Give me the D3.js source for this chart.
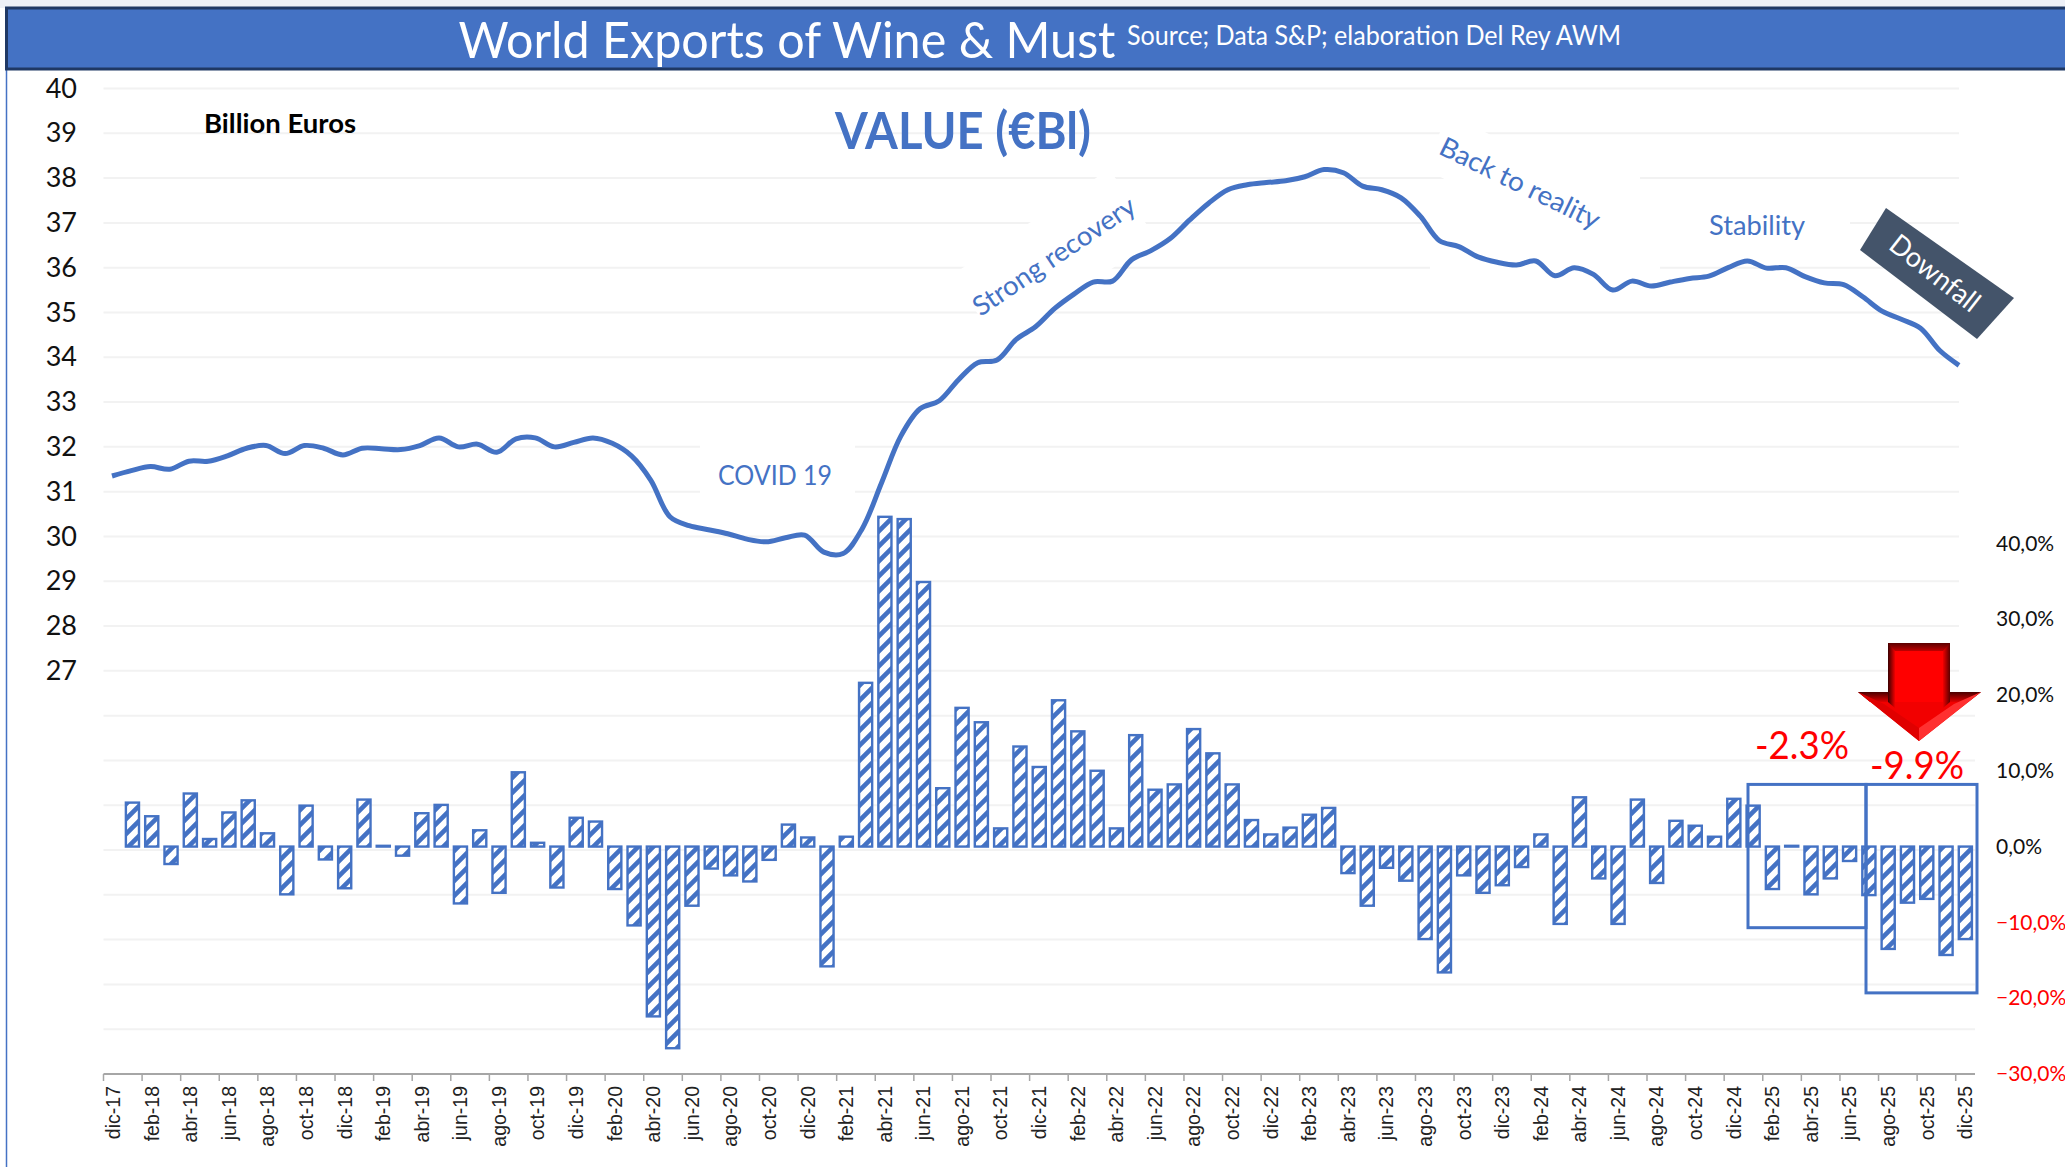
<!DOCTYPE html>
<meta charset="utf-8">
<style>
body { margin: 0; background: #fff; }
text { font-family: Lato, "Open Sans", sans-serif; }
.xlabel { font-family: "Liberation Sans", sans-serif; font-size: 19.5px; fill: #222; }
</style>
<svg width="2065" height="1167"></svg>
<script src="https://d3js.org/d3.v7.min.js"></script>
<script>

////////// Data //////////////
var months = ["dic-17",
  "ene-18","feb-18","mar-18","abr-18","may-18","jun-18","jul-18","ago-18","sep-18","oct-18","nov-18","dic-18",
  "ene-19","feb-19","mar-19","abr-19","may-19","jun-19","jul-19","ago-19","sep-19","oct-19","nov-19","dic-19",
  "ene-20","feb-20","mar-20","abr-20","may-20","jun-20","jul-20","ago-20","sep-20","oct-20","nov-20","dic-20",
  "ene-21","feb-21","mar-21","abr-21","may-21","jun-21","jul-21","ago-21","sep-21","oct-21","nov-21","dic-21",
  "ene-22","feb-22","mar-22","abr-22","may-22","jun-22","jul-22","ago-22","sep-22","oct-22","nov-22","dic-22",
  "ene-23","feb-23","mar-23","abr-23","may-23","jun-23","jul-23","ago-23","sep-23","oct-23","nov-23","dic-23",
  "ene-24","feb-24","mar-24","abr-24","may-24","jun-24","jul-24","ago-24","sep-24","oct-24","nov-24","dic-24",
  "ene-25","feb-25","mar-25","abr-25","may-25","jun-25","jul-25","ago-25","sep-25","oct-25","nov-25","dic-25"];

// moving annual total, billion euros
var valueBn = [31.35,31.47,31.56,31.5,31.68,31.68,31.8,31.97,32.03,31.85,32.03,31.97,31.82,
  31.97,31.96,31.94,32.03,32.2,32.0,32.06,31.88,32.18,32.2,32.0,32.1,
  32.2,32.08,31.8,31.26,30.44,30.24,30.15,30.06,29.94,29.88,29.97,30.03,
  29.65,29.62,30.18,31.2,32.24,32.85,33.03,33.5,33.88,33.94,34.4,34.68,
  35.09,35.41,35.68,35.7,36.18,36.38,36.65,37.06,37.44,37.74,37.85,37.9,
  37.94,38.03,38.19,38.12,37.82,37.74,37.56,37.15,36.6,36.47,36.24,36.12,
  36.06,36.15,35.82,36.0,35.85,35.5,35.7,35.59,35.68,35.76,35.81,36.0,
  36.15,35.99,36.0,35.8,35.66,35.62,35.35,35.03,34.85,34.65,34.15,33.82];

// monthly change, percent (no bar for the first month)
var changePct = [null,
  5.8,4.0,-2.3,7.0,1.0,4.5,6.1,1.75,-6.3,5.4,-1.7,-5.5,
  6.2,0.1,-1.2,4.4,5.5,-7.5,2.15,-6.1,9.8,0.5,-5.4,3.8,
  3.3,-5.6,-10.4,-22.4,-26.6,-7.8,-2.9,-3.8,-4.6,-1.75,2.9,1.2,
  -15.8,1.3,21.6,43.5,43.2,34.9,7.7,18.3,16.4,2.4,13.2,10.5,
  19.3,15.2,10.0,2.4,14.7,7.5,8.2,15.5,12.3,8.2,3.5,1.6,
  2.5,4.2,5.1,-3.5,-7.8,-2.8,-4.5,-12.2,-16.6,-3.8,-6.1,-5.1,
  -2.7,1.6,-10.2,6.5,-4.2,-10.2,6.2,-4.8,3.4,2.75,1.3,6.3,
  5.4,-5.6,0.1,-6.3,-4.2,-1.9,-6.4,-13.5,-7.4,-6.9,-14.3,-12.2];

var leftTicks = d3.range(18, 41);
var rightTicks = [-30,-20,-10,0,10,20,30,40];

////////// Scales //////////////
var svg = d3.select("svg"),
    blue = "#4472C4",
    top_ = 88.5,
    bottom = 1074;

var xBar = d3.scaleBand().domain(months).range([103.5, 1975]).paddingInner(0.32).paddingOuter(0.16);
var xLine = d3.scalePoint().domain(months).range([112, 1959]);
var yLeft = d3.scaleLinear().domain([18, 40]).range([bottom, top_]);
var yRight = d3.scaleLinear().domain([-30, 100]).range([bottom, top_]);

var defs = svg.append("defs");

// bar hatch
var hatch = defs.append("pattern")
    .attr("id", "hatch")
    .attr("patternUnits", "userSpaceOnUse")
    .attr("width", 15).attr("height", 15);
hatch.append("rect").attr("width", 15).attr("height", 15).attr("fill", "#fff");
hatch.append("path")
    .attr("d", "M-3,3L3,-3M0,15L15,0M12,18L18,12")
    .attr("stroke", blue).attr("stroke-width", 4.6);

function grad(id, stops, vertical) {
  var g = defs.append("linearGradient").attr("id", id);
  if (vertical) g.attr("x2", 0).attr("y2", 1);
  stops.forEach(function(s) {
    g.append("stop").attr("offset", s[0]).attr("stop-color", s[1]);
  });
}
grad("bevelL", [[0, "#3a0000"], [1, "#ee0000"]]);
grad("bevelR", [[0, "#ee0000"], [1, "#5a0000"]]);
grad("bevelT", [[0, "#5a0000"], [1, "#c00000"]], true);
grad("wing", [[0, "#4a0000"], [1, "#e00000"]], true);

////////// Top strip + header //////////////
svg.append("rect").attr("width", 2065).attr("height", 8).attr("fill", "#edf0f7");
svg.append("line").attr("x1", 6.5).attr("x2", 6.5).attr("y1", 70).attr("y2", 1167)
    .attr("stroke", blue).attr("stroke-width", 1.5);

////////// Gridlines //////////////
var grid = svg.append("g");
grid.selectAll("line").data(leftTicks).enter().append("line")
    .attr("x1", 103.5)
    .attr("x2", function(d) { return d >= 27 ? 1959 : 1975; })
    .attr("y1", function(d) { return yLeft(d); })
    .attr("y2", function(d) { return yLeft(d); })
    .attr("stroke", "#f2f2f2").attr("stroke-width", 2);

// white backing of the text boxes cuts the gridlines
[[1540, 155, 100, 60], [1430, 200, 230, 70], [1660, 205, 190, 60], [700, 440, 155, 90]].forEach(function(b) {
  svg.append("rect").attr("x", b[0]).attr("y", b[1]).attr("width", b[2]).attr("height", b[3]).attr("fill", "#fff");
});
svg.append("rect").attr("x", -95).attr("y", -42).attr("width", 190).attr("height", 84).attr("fill", "#fff")
    .attr("transform", "translate(1054,257) rotate(-34)");
svg.append("rect").attr("x", -95).attr("y", -30).attr("width", 190).attr("height", 60).attr("fill", "#fff")
    .attr("transform", "translate(1521,183) rotate(26)");

////////// Axes //////////////
var leftAxis = d3.axisLeft(yLeft)
    .tickValues(leftTicks)
    .tickSize(0)
    .tickFormat(function(d) { return d >= 27 ? d : ""; });
svg.append("g").attr("transform", "translate(77,0)").call(leftAxis)
    .call(function(g) { g.select(".domain").remove(); })
    .selectAll("text").attr("x", 0).style("font-size", "27px").attr("fill", "#111");

var rightAxis = d3.axisRight(yRight)
    .tickValues(rightTicks)
    .tickSize(0)
    .tickFormat(function(d) { return d3.format(".1f")(d).replace(".", ",") + "%"; });
svg.append("g").attr("transform", "translate(1996,0)").call(rightAxis)
    .call(function(g) { g.select(".domain").remove(); })
    .selectAll("text").attr("x", 0).style("font-size", "21px")
    .attr("fill", function(d) { return d < 0 ? "#ff0000" : "#111"; });

// bottom axis: ticks sit on the band edges, every second month
svg.append("line").attr("x1", 103.5).attr("x2", 1975).attr("y1", bottom).attr("y2", bottom)
    .attr("stroke", "#a6a6a6").attr("stroke-width", 2);
var labelled = months.filter(function(d, i) { return i % 2 === 0; });
var xTick = svg.append("g").selectAll("g").data(labelled).enter().append("g");
function bandLeft(d) { return xBar(d) - xBar.step() * 0.16; }
xTick.append("line")
    .attr("x1", bandLeft)
    .attr("x2", bandLeft)
    .attr("y1", bottom).attr("y2", bottom + 7)
    .attr("stroke", "#a6a6a6").attr("stroke-width", 1.5);
xTick.append("text")
    .attr("class", "xlabel")
    .attr("text-anchor", "end")
    .attr("dy", "0.35em")
    .attr("transform", function(d) { return "translate(" + (xBar(d) + xBar.bandwidth() / 2) + "," + (bottom + 12) + ") rotate(-90)"; })
    .text(function(d) { return d; });

////////// Bars //////////////
svg.append("g").selectAll("rect")
    .data(changePct.map(function(v, i) { return { month: months[i], v: v }; }).filter(function(d) { return d.v !== null; }))
    .enter().append("rect")
    .attr("x", function(d) { return xBar(d.month); })
    .attr("y", function(d) { return yRight(Math.max(0, d.v)); })
    .attr("width", xBar.bandwidth())
    .attr("height", function(d) { return Math.abs(yRight(d.v) - yRight(0)); })
    .attr("fill", "url(#hatch)")
    .attr("stroke", blue).attr("stroke-width", 2.4);

////////// Line //////////////
var line = d3.line()
    .x(function(d, i) { return xLine(months[i]); })
    .y(function(d) { return yLeft(d); })
    .curve(d3.curveCatmullRom.alpha(0.5));
svg.append("path").datum(valueBn)
    .attr("d", line)
    .attr("fill", "none")
    .attr("stroke", blue).attr("stroke-width", 5);

////////// Highlight boxes + arrow //////////////
[[1748, yRight(8.2), 118, yRight(-10.7)], [1866, yRight(8.2), 111, yRight(-19.3)]].forEach(function(b) {
  svg.append("rect").attr("x", b[0]).attr("y", b[1]).attr("width", b[2]).attr("height", b[3] - b[1])
      .attr("fill", "none").attr("stroke", blue).attr("stroke-width", 3);
});

var arrow = svg.append("g");
// head: flat face, wing bevels, then lit edges near the tip
arrow.append("path").attr("d", "M1858,692H1981L1919,741Z").attr("fill", "#f20000");
arrow.append("path").attr("d", "M1858,692H1888V702H1870Z").attr("fill", "url(#wing)");
arrow.append("path").attr("d", "M1950,692H1981L1968,702H1950Z").attr("fill", "url(#wing)");
arrow.append("path").attr("d", "M1981,692L1919,741V728L1954,704Z").attr("fill", "#ff3030");
arrow.append("path").attr("d", "M1858,692L1919,741V728L1884,704Z").attr("fill", "#e00000");
// shaft
arrow.append("path").attr("d", "M1888,643H1950V702H1888Z").attr("fill", "#ff0000");
arrow.append("path").attr("d", "M1888,643H1895V708L1888,702Z").attr("fill", "url(#bevelL)");
arrow.append("path").attr("d", "M1950,643H1943V708L1950,702Z").attr("fill", "url(#bevelR)");
arrow.append("path").attr("d", "M1888,643H1950L1943,651H1895Z").attr("fill", "url(#bevelT)");

////////// Header //////////////
svg.append("rect").attr("x", 6.5).attr("y", 8).attr("width", 2070).attr("height", 61)
    .attr("fill", blue).attr("stroke", "#1f3864").attr("stroke-width", 3);

// text helper, width is the width measured on the reference
function label(x, y, str, size, color, width, opts) {
  opts = opts || {};
  var t = svg.append("text")
      .attr("text-anchor", "middle")
      .attr("dy", "0.35em")
      .attr("transform", "translate(" + x + "," + y + ") rotate(" + (opts.rotate || 0) + ")")
      .attr("textLength", width)
      .attr("lengthAdjust", "spacingAndGlyphs")
      .style("font-size", size + "px")
      .style("font-weight", opts.bold ? 700 : 400)
      .attr("fill", color)
      .text(str);
  return t;
}

label(787, 40, "World Exports of Wine & Must", 50, "#fff", 657);
label(1374, 36, "Source; Data S&P; elaboration Del Rey AWM", 26, "#fff", 494);
label(280, 124, "Billion Euros", 26, "#000", 152, { bold: true });
label(963, 131, "VALUE (€Bl)", 52, blue, 256, { bold: true });
label(775, 476, "COVID 19", 26, blue, 114);
label(1054, 256, "Strong recovery", 27, blue, 190, { rotate: -34 });
label(1520, 183, "Back to reality", 27, blue, 175, { rotate: 26 });
label(1757, 226, "Stability", 27, blue, 96);
label(1802, 746, "-2.3%", 38, "#ff0000", 94);
label(1917, 766, "-9.9%", 38, "#ff0000", 94);

////////// Downfall tag //////////////
svg.append("path").attr("d", "M1886,208L2014,298L1977,339L1860,250Z").attr("fill", "#44546A");
label(1935, 273, "Downfall", 28, "#fff", 106, { rotate: 38 });

</script>
